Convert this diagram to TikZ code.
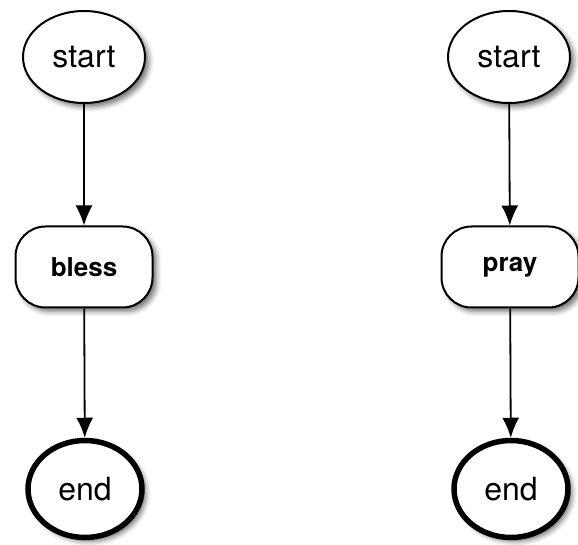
\documentclass[tikz,border=0pt]{standalone}
\usepackage{fontspec}
\setmainfont{TeX Gyre Heros}
\usetikzlibrary{shapes.geometric,arrows.meta,shadows.blur}
\tikzset{
  stateshadow/.style={blur shadow={shadow xshift=4pt,shadow yshift=-4pt,shadow blur radius=5pt,shadow opacity=55}},
  startstate/.style={ellipse,draw,line width=2pt,fill=white,minimum width=122pt,minimum height=92pt,
    font=\fontsize{32}{36}\selectfont,inner sep=0pt,stateshadow},
  endstate/.style={ellipse,draw,line width=5.5pt,fill=white,minimum width=114pt,minimum height=97pt,
    font=\fontsize{32}{36}\selectfont,inner sep=0pt,stateshadow},
  actionbox/.style={rectangle,rounded corners=30pt,draw,line width=2pt,fill=white,minimum width=137pt,
    minimum height=81pt,font=\bfseries\fontsize{26}{30}\selectfont,inner sep=0pt,stateshadow},
  flow/.style={line width=1.8pt,-{Latex[length=20pt,width=17pt]}}
}
\begin{document}
\begin{tikzpicture}[x=1pt,y=1pt]
  \useasboundingbox (0,0) rectangle (578,544);
  % left flow
  \node[startstate] (s1) at (84,487) {start};
  \node[actionbox]  (a1) at (84,277) {bless};
  \node[endstate]   (e1) at (85,55)  {end};
  % right flow
  \node[startstate] (s2) at (509,487) {start};
  \node[actionbox]  (a2) at (510,277) {\raisebox{-3pt}{pray}};
  \node[endstate]   (e2) at (511,55)  {end};
  \draw[flow] (s1) -- (a1);
  \draw[flow] (a1) -- (e1);
  \draw[flow] (s2) -- (a2);
  \draw[flow] (a2) -- (e2);
\end{tikzpicture}
\end{document}
